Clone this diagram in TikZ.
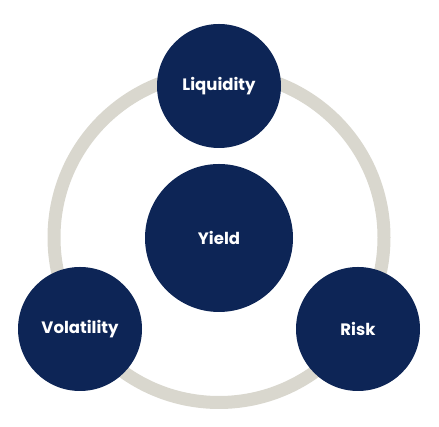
\documentclass[tikz,border=0pt]{standalone}
\usepackage{fontspec}
\setmainfont{Poppins}
\definecolor{navy}{HTML}{0D2556}
\definecolor{ringgrey}{HTML}{D9D7CE}

\begin{document}
\begin{tikzpicture}[x=1pt, y=1pt,
    factor/.style={circle, fill=navy, text=white, inner sep=0pt, minimum size=124pt, font=\fontsize{16.5}{19}\selectfont\bfseries}]
  \useasboundingbox (0,0) rectangle (439,427);
  % draw grey ring behind the circles
  \coordinate (ring_center) at (219,189.5);
  \draw[ringgrey, line width=13pt] (ring_center) circle (165);
  % draw navy circles with labels
  \node[factor] (liquidity) at (219,341) {Liquidity};
  \node[factor, minimum size=148pt] (yield) at (219,189) {Yield};
  \node[factor] (volatility) at (80,98) {Volatility};
  \node[factor] (risk) at (358,98) {Risk};
\end{tikzpicture}
\end{document}
